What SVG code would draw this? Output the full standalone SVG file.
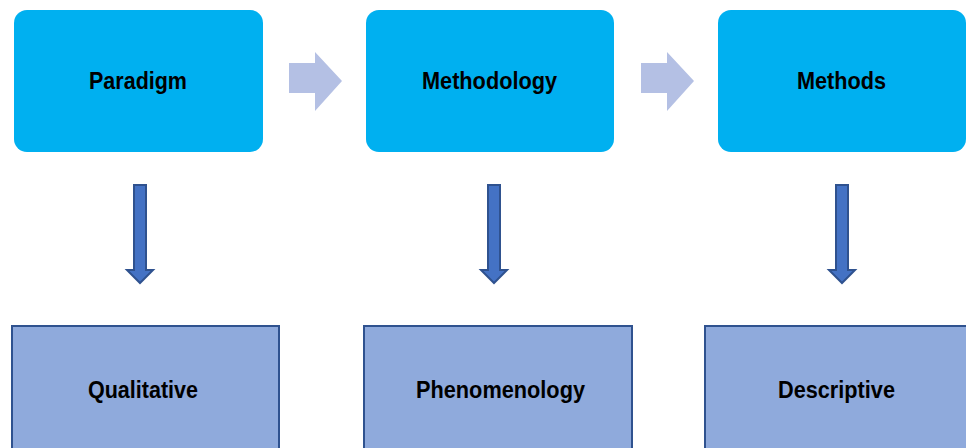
<svg xmlns="http://www.w3.org/2000/svg" width="966" height="448" viewBox="0 0 966 448">
<style>
.top{fill:#00B0F0;}
.bot{fill:#8FAADC;stroke:#2F528F;stroke-width:2;}
.flow{fill:#B4C0E4;}
.down{fill:#4472C4;stroke:#2F528F;stroke-width:2;}
text{font-family:"Liberation Sans",Arial,sans-serif;font-weight:bold;font-size:23px;fill:#000;text-anchor:middle;}
</style>
<rect width="966" height="448" fill="#fff"/>
<g id="connectors">
<polygon class="flow" points="289,63 315,63 315,52 342,81 315,111 315,93 289,93"/>
<polygon class="flow" points="641,63 667,63 667,52 694,81 667,111 667,93 641,93"/>
<polygon class="down" points="134,185 146,185 146,270 153,270 140,283 127,270 134,270"/>
<polygon class="down" points="488,185 500,185 500,270 507,270 494,283 481,270 488,270"/>
<polygon class="down" points="836,185 848,185 848,270 855,270 842,283 829,270 836,270"/>
</g>
<g id="paradigm"><rect class="top" x="14" y="10" width="249" height="142" rx="13"/><text x="138" y="89" textLength="98" lengthAdjust="spacingAndGlyphs">Paradigm</text></g>
<g id="methodology"><rect class="top" x="366" y="10" width="248" height="142" rx="13"/><text x="489.5" y="89" textLength="135" lengthAdjust="spacingAndGlyphs">Methodology</text></g>
<g id="methods"><rect class="top" x="718" y="10" width="248" height="142" rx="13"/><text x="841.5" y="89" textLength="89" lengthAdjust="spacingAndGlyphs">Methods</text></g>
<g id="qualitative"><rect class="bot" x="12" y="326" width="267" height="130"/><text x="143" y="398" textLength="110" lengthAdjust="spacingAndGlyphs">Qualitative</text></g>
<g id="phenomenology"><rect class="bot" x="364" y="326" width="268" height="130"/><text x="500.5" y="398" textLength="169" lengthAdjust="spacingAndGlyphs">Phenomenology</text></g>
<g id="descriptive"><rect class="bot" x="705" y="326" width="270" height="130"/><text x="836.5" y="398" textLength="117" lengthAdjust="spacingAndGlyphs">Descriptive</text></g>
</svg>
